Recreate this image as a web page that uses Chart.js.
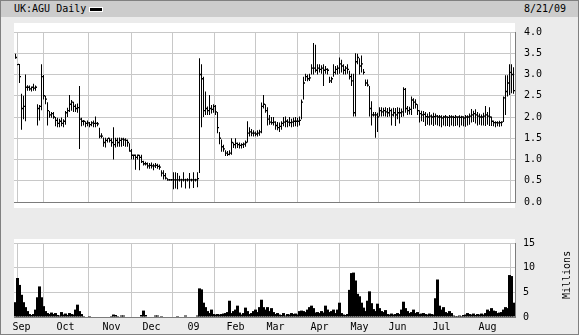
<!DOCTYPE html>
<html>
<head>
<meta charset="utf-8">
<script src="https://cdn.jsdelivr.net/npm/chart.js@4.4.1/dist/chart.umd.min.js"></script>
<style>
  html, body { margin: 0; padding: 0; background: #ebebeb; }
  #wrap { position: relative; width: 579px; height: 335px; background: #ebebeb; overflow: hidden;
          font-family: "DejaVu Sans Mono", monospace; font-size: 10px; line-height: 10px; color: #000; }
  #topbar { position: absolute; left: 0; top: 0; width: 579px; height: 17px; background: #cccccc; }
  .plotbg { position: absolute; background: #fff; }
  .txt { position: absolute; white-space: nowrap; }
  #mark { position: absolute; left: 89px; top: 7px; width: 14px; height: 5px; background: #fff; }
  #mark div { position: absolute; left: 1px; top: 1px; width: 12px; height: 3px; background: #000; }
  #millions { position: absolute; left: 543px; top: 270px; width: 48px; height: 10px; text-align: center;
              transform: rotate(-90deg); transform-origin: 50% 50%; }
  canvas { position: absolute; left: 0; }
  #frame { position: absolute; left: 0; top: 0; width: 579px; height: 335px; box-sizing: border-box;
           border: 1px solid #808080; pointer-events: none; }
</style>
</head>
<body>
<div id="wrap">
  <div id="topbar"></div>
  <div class="txt" style="left:14px; top:4px;">UK:AGU Daily</div>
  <div id="mark"><div></div></div>
  <div class="txt" style="left:524px; top:4px;">8/21/09</div>
  <div class="plotbg" style="left:14px; top:23px; width:501px; height:185px;"></div>
  <div class="plotbg" style="left:14px; top:239px; width:501px; height:78px;"></div>
  <canvas id="price" width="579" height="200" style="top:17px;"></canvas>
  <canvas id="volume" width="579" height="106" style="top:229px;"></canvas>
  <div id="millions">Millions</div>
  <div id="frame"></div>
</div>
<script>
// trading days counted from 1 Sep 2008 (index 0); first bar is 27 Aug 2008
const FIRST_DAY = -3;
const MONTH_TICKS = [0, 22, 45, 65, 86, 107, 127, 149, 169, 188, 210, 233];
const MONTH_LABELS = ['Sep', 'Oct', 'Nov', 'Dec', '09', 'Feb', 'Mar', 'Apr', 'May', 'Jun', 'Jul', 'Aug'];

const HIGH = [
  3.49,3.25,3.25,2.55,2.50,3.00,2.75,2.74,2.72,2.78,
  2.74,2.30,2.28,3.24,2.99,2.50,2.35,2.14,2.12,2.12,
  2.00,1.98,1.96,1.99,1.95,2.14,2.22,2.52,2.40,2.36,
  2.30,2.32,2.73,1.98,1.93,1.90,1.92,1.88,1.90,1.92,
  2.01,1.88,1.75,1.62,1.52,1.51,1.50,1.51,1.50,1.76,
  1.51,1.51,1.52,1.51,1.51,1.50,1.47,1.38,1.25,1.12,
  1.12,1.12,1.11,1.11,0.97,0.95,0.93,0.92,0.93,0.90,
  0.92,0.90,0.88,0.75,0.75,0.68,0.56,0.54,0.54,0.70,
  0.70,0.68,0.62,0.55,0.70,0.55,0.56,0.68,0.55,0.70,
  0.55,0.70,3.38,3.24,2.95,2.60,2.25,2.52,2.28,2.30,
  2.28,2.12,1.65,1.47,1.35,1.22,1.20,1.22,1.50,1.40,
  1.50,1.40,1.40,1.38,1.40,1.45,1.90,1.76,1.72,1.69,
  1.66,1.69,1.70,2.34,2.52,2.30,2.23,2.05,2.00,2.00,
  1.90,1.88,1.87,1.90,2.00,2.01,1.95,2.00,1.96,1.99,
  2.00,1.98,2.01,2.41,2.95,3.02,3.00,3.02,3.24,3.74,
  3.70,3.24,3.24,3.22,3.24,3.20,3.15,2.95,2.95,3.24,
  3.20,3.22,3.40,3.35,3.24,3.20,3.24,3.09,3.02,3.02,
  3.50,3.49,3.38,3.45,3.13,2.88,2.88,2.73,2.37,2.12,
  2.12,2.10,2.23,2.23,2.22,2.23,2.21,2.23,2.20,2.22,
  2.21,2.23,2.22,2.20,2.70,2.68,2.26,2.24,2.48,2.44,
  2.42,2.30,2.16,2.15,2.14,2.12,2.08,2.12,2.06,2.10,
  2.08,2.05,2.05,2.04,2.03,2.05,2.02,2.05,2.04,2.03,
  2.05,2.02,2.04,2.03,2.02,2.05,2.04,2.08,2.19,2.15,
  2.18,2.12,2.08,2.06,2.10,2.26,2.12,2.23,2.01,1.92,
  1.90,1.90,1.91,1.90,2.48,2.98,2.98,3.24,3.24,3.17
];
const LOW = [
  3.37,3.22,2.80,1.70,1.95,1.90,2.62,2.62,2.60,2.62,
  2.62,1.80,1.92,2.16,2.41,2.30,1.80,1.98,1.98,1.96,
  1.78,1.76,1.76,1.78,1.76,1.82,2.00,2.12,2.15,2.12,
  2.12,2.10,1.25,1.78,1.80,1.76,1.78,1.76,1.78,1.76,
  1.76,1.78,1.50,1.50,1.30,1.28,1.40,1.40,1.30,1.00,
  1.28,1.30,1.30,1.30,1.32,1.30,1.30,1.18,1.00,1.00,
  0.76,1.00,0.75,0.92,0.86,0.86,0.79,0.78,0.79,0.75,
  0.80,0.78,0.76,0.60,0.53,0.53,0.50,0.50,0.50,0.30,
  0.32,0.30,0.48,0.34,0.48,0.32,0.48,0.32,0.48,0.33,
  0.48,0.35,0.68,1.76,2.00,2.05,2.05,2.05,2.08,2.10,
  2.05,1.62,1.36,1.18,1.18,1.08,1.08,1.10,1.11,1.27,
  1.26,1.27,1.26,1.26,1.27,1.30,1.40,1.54,1.55,1.54,
  1.55,1.54,1.56,1.62,2.20,2.10,1.80,1.82,1.82,1.80,
  1.70,1.69,1.65,1.70,1.78,1.76,1.76,1.78,1.76,1.77,
  1.78,1.77,1.80,1.95,2.41,2.85,2.84,2.85,3.00,3.00,
  3.05,3.00,3.05,3.02,2.73,3.02,3.00,2.80,2.80,2.95,
  3.00,3.00,3.02,3.05,3.00,3.00,3.02,2.88,2.73,2.01,
  2.01,3.24,3.00,3.05,3.00,2.73,2.72,2.01,1.80,2.01,
  1.51,1.65,2.01,2.01,2.02,2.01,2.00,2.01,1.80,2.01,
  1.79,1.95,1.85,2.00,2.01,2.10,2.05,2.06,2.05,2.19,
  2.20,2.05,1.87,1.90,1.88,1.79,1.82,1.80,1.82,1.79,
  1.82,1.80,1.78,1.76,1.80,1.78,1.79,1.77,1.80,1.78,
  1.79,1.80,1.76,1.80,1.78,1.77,1.80,1.82,1.87,1.88,
  1.85,1.80,1.82,1.80,1.80,1.79,1.82,1.79,1.79,1.78,
  1.76,1.78,1.77,1.78,1.88,2.05,2.48,2.52,2.56,2.55
];
const CLOSE = [
  3.40,3.24,2.95,2.20,2.25,2.70,2.70,2.66,2.70,2.68,
  2.70,2.20,2.25,2.95,2.50,2.42,2.15,2.05,2.08,2.00,
  1.92,1.85,1.90,1.85,1.90,2.10,2.15,2.30,2.35,2.25,
  2.20,2.22,1.95,1.90,1.90,1.85,1.86,1.82,1.86,1.85,
  1.85,1.84,1.55,1.55,1.40,1.45,1.50,1.45,1.40,1.35,
  1.45,1.40,1.45,1.48,1.46,1.45,1.40,1.20,1.10,1.10,
  1.05,1.10,1.05,0.95,0.90,0.90,0.85,0.86,0.85,0.85,
  0.86,0.84,0.82,0.68,0.62,0.56,0.52,0.52,0.52,0.52,
  0.52,0.52,0.52,0.52,0.52,0.52,0.52,0.52,0.52,0.52,
  0.52,0.55,3.00,2.90,2.15,2.20,2.15,2.20,2.18,2.25,
  2.12,1.75,1.50,1.30,1.25,1.15,1.12,1.15,1.40,1.35,
  1.38,1.35,1.33,1.35,1.36,1.40,1.62,1.65,1.62,1.62,
  1.60,1.62,1.65,2.25,2.30,2.15,1.95,1.88,1.87,1.88,
  1.80,1.75,1.78,1.85,1.88,1.90,1.88,1.87,1.88,1.90,
  1.90,1.90,1.92,2.35,2.80,2.95,2.90,2.92,3.15,3.15,
  3.10,3.15,3.12,3.15,3.10,3.12,3.10,2.85,2.90,3.05,
  3.12,3.15,3.25,3.20,3.10,3.15,3.12,2.95,2.85,2.10,
  3.30,3.40,3.20,3.25,3.05,2.80,2.75,2.20,2.05,2.05,
  2.05,2.00,2.15,2.12,2.15,2.12,2.10,2.15,2.05,2.10,
  2.05,2.10,2.10,2.12,2.65,2.20,2.15,2.18,2.40,2.35,
  2.30,2.15,2.08,2.05,2.06,2.01,2.00,2.02,2.00,2.01,
  2.02,2.00,2.00,1.98,2.00,2.00,1.99,2.00,2.00,1.99,
  2.00,2.00,1.99,2.00,1.98,2.00,2.00,2.02,2.05,2.08,
  2.05,2.02,2.00,2.00,2.02,2.05,2.02,2.00,1.90,1.87,
  1.87,1.86,1.87,1.88,2.45,2.60,2.80,3.05,3.00,2.62
];
// volume in millions
const VOLUME = [
  3.0,7.9,6.5,4.5,3.0,2.0,1.2,0.6,0.4,0.6,
  1.5,4.0,6.2,4.0,2.2,1.2,0.8,0.6,0.9,0.6,
  0.8,0.4,0.3,1.0,0.5,0.7,0.4,0.8,0.6,0.5,
  1.5,2.5,1.2,0.6,0.2,0.1,0.1,0.2,0.1,0.1,
  0.1,0.1,0.1,0.1,0.1,0.1,0.1,0.1,0.2,0.5,
  0.4,0.2,0.1,0.3,0.3,0.1,0.1,0.1,0.1,0.1,
  0.1,0.1,0.1,0.4,1.3,0.4,0.1,0.1,0.1,0.1,
  0.3,0.3,0.1,0.2,0.1,0.1,0.1,0.1,0.1,0.1,
  0.1,0.2,0.1,0.1,0.1,0.3,0.1,0.1,0.1,0.1,
  0.1,0.3,5.8,5.6,2.9,2.0,1.2,0.8,1.5,0.6,
  0.5,0.6,0.5,0.6,0.7,0.8,1.0,3.3,0.8,1.2,
  1.5,2.3,0.9,0.5,0.8,1.9,1.2,0.6,0.8,1.2,
  1.5,1.0,2.0,3.5,2.0,1.5,2.0,1.2,1.8,1.0,
  0.6,0.8,0.5,0.4,0.8,0.3,0.6,0.5,0.8,0.6,
  0.7,0.5,1.2,1.3,1.2,1.0,1.5,2.0,2.3,1.8,
  0.9,1.0,0.8,1.2,0.9,2.3,1.5,1.0,1.2,1.5,
  0.8,1.5,2.9,0.8,0.5,0.4,0.6,5.5,8.9,9.0,
  7.4,4.7,4.2,2.9,1.9,1.2,3.3,5.2,2.8,1.6,
  1.2,2.7,1.8,1.2,1.0,1.4,0.6,0.5,0.7,0.5,
  0.6,0.8,0.6,1.5,3.1,1.8,1.2,0.8,1.0,1.5,
  0.8,1.0,0.6,0.7,0.8,0.6,0.5,0.7,0.6,0.5,
  3.8,7.6,2.3,1.5,2.0,1.0,0.8,1.2,0.8,0.3,
  0.2,0.2,0.3,0.2,0.4,0.5,0.8,0.6,0.5,0.7,
  0.4,0.6,0.5,0.7,0.5,0.8,1.5,1.2,1.8,1.3,
  1.2,0.8,0.9,1.0,1.5,2.0,1.8,8.5,8.3,2.9
];

const X_MIN = -3.75, X_MAX = 246.75;
const TICK_HALF = 0.015; // close tick is a bit over one pixel tall
const gridColor = '#c8c8c8';
const edgeColor = '#7c7c7c';
const monoFont = { family: '"DejaVu Sans Mono", monospace', size: 10 };
const days = HIGH.map((_, k) => FIRST_DAY + k);

function monthTicks(scale) {
  scale.ticks = [{ value: X_MIN }].concat(MONTH_TICKS.map(v => ({ value: v })));
}

const common = {
  responsive: false,
  animation: false,
  events: [],
  plugins: { legend: { display: false }, tooltip: { enabled: false } }
};

// --- price panel (high-low bars + close ticks) ---
new Chart(document.getElementById('price'), {
  type: 'bar',
  data: {
    datasets: [
      { data: days.map((d, k) => ({ x: d, y: [LOW[k], HIGH[k]] })),
        backgroundColor: '#000', barThickness: 1, inflateAmount: 0, grouped: false },
      { data: days.map((d, k) => ({ x: d + 0.5, y: [CLOSE[k] - TICK_HALF, CLOSE[k] + TICK_HALF] })),
        backgroundColor: '#000', barThickness: 1, inflateAmount: 0, grouped: false }
    ]
  },
  options: Object.assign({}, common, {
    layout: { padding: { left: 14, top: 6, right: 0, bottom: 0 } },
    scales: {
      x: { type: 'linear', min: X_MIN, max: X_MAX, offset: false,
           afterBuildTicks: monthTicks, afterFit: s => { s.height = 9; },
           ticks: { display: false },
           grid: { color: gridColor, drawTicks: false },
           border: { color: edgeColor } },
      y: { position: 'right', min: 0, max: 4, afterFit: s => { s.width = 64; },
           ticks: { stepSize: 0.5, padding: 9, color: '#000', font: monoFont, callback: v => v.toFixed(1) },
           grid: { color: gridColor, drawTicks: false },
           border: { color: edgeColor } }
    }
  })
});

// --- volume panel ---
new Chart(document.getElementById('volume'), {
  type: 'bar',
  data: {
    datasets: [
      { data: days.map((d, k) => ({ x: d, y: VOLUME[k] })),
        backgroundColor: '#000', barThickness: 3, inflateAmount: 0, grouped: false }
    ]
  },
  options: Object.assign({}, common, {
    layout: { padding: { left: 14, top: 10, right: 0, bottom: 0 } },
    scales: {
      x: { type: 'linear', min: X_MIN, max: X_MAX, offset: false,
           afterBuildTicks: monthTicks, afterFit: s => { s.height = 18; },
           ticks: { autoSkip: false, maxRotation: 0, padding: 4, color: '#000', font: monoFont,
                    callback: v => { const i = MONTH_TICKS.indexOf(v); return i < 0 ? '' : MONTH_LABELS[i]; } },
           grid: { color: gridColor, drawTicks: false },
           border: { color: edgeColor } },
      y: { position: 'right', min: 0, max: 15, afterFit: s => { s.width = 64; },
           ticks: { stepSize: 5, padding: 8, color: '#000', font: monoFont },
           grid: { color: gridColor, drawTicks: false },
           border: { color: edgeColor } }
    }
  })
});
</script>
</body>
</html>
